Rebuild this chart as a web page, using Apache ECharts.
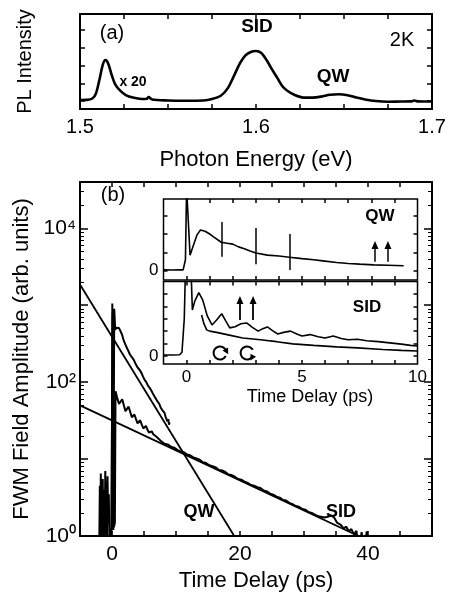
<!DOCTYPE html>
<html><head><meta charset="utf-8">
<script src="https://cdn.jsdelivr.net/npm/echarts@6/dist/echarts.min.js"></script>
</head>
<body style="margin:0;background:#fff">
<div id="c" style="width:449px;height:593px"></div>
<script>
// ---------- Panel (a): PL spectrum ----------
const plEnergy = [1.500,1.504,1.507,1.509,1.511,1.513,1.5145,1.516,1.518,1.520,1.523,1.526,1.530,1.535,1.538,1.539,1.541,1.550,1.560,1.570,1.575,1.580,1.584,1.588,1.591,1.594,1.597,1.600,1.603,1.606,1.609,1.612,1.615,1.618,1.622,1.627,1.632,1.637,1.642,1.647,1.652,1.657,1.662,1.668,1.675,1.682,1.688,1.690,1.692,1.695,1.700];
const plIntensity = [0.095,0.096,0.11,0.16,0.305,0.47,0.515,0.48,0.36,0.26,0.19,0.147,0.12,0.105,0.108,0.125,0.10,0.09,0.087,0.09,0.105,0.14,0.22,0.37,0.485,0.565,0.60,0.61,0.59,0.515,0.42,0.33,0.24,0.19,0.147,0.12,0.12,0.13,0.15,0.155,0.145,0.12,0.10,0.084,0.077,0.079,0.08,0.09,0.08,0.079,0.079];
const energyTicks = [1.525,1.55,1.575,1.6,1.625,1.65,1.675];
const energyLabels = [1.5,1.6,1.7];
const plTicks = [0.085,0.27,0.455,0.64,0.83];

// ---------- Panel (b): FWM field amplitude (log) ----------
const qwTime = [-2.0,-1.9,-1.85,-1.75,-1.7,-1.6,-1.5,-1.45,-1.35,-1.25,-1.15,-1.05,-0.95,-0.85,-0.8,-0.7,-0.6,-0.5,-0.4,-0.2,-0.05,0.05,0.2,0.35,0.5,0.7,0.9,1.1,1.3,1.55,1.8,2.05,2.3,2.55,2.8,3.1,3.4,3.7,4.0,4.3,4.6,4.85,5.1,5.35,5.6,5.85,6.1,6.35,6.6,6.8,7.0,7.2,7.4,7.6,7.8,8.0,8.2,8.35,8.5,8.65,8.8,8.9,9.0];
const qwAmp = [0.6,4.5,0.6,6.5,0.8,3,0.7,5.5,0.9,4,0.7,7,1.1,5,0.8,6,1.5,3.5,0.8,1.1,1.3,1050,1.2,900,480,510,525,505,480,420,355,315,282,255,229,212,195,172,155,145,132,118,107,100,91,85,79,72,66,63,58,56,52,47,44,45,40,36,38,31,33,28,30];
const sidTime = [-0.1,0.1,0.3,0.45,0.55,0.8,1.1,1.35,1.6,1.85,
  2.1,2.35,2.6,2.85,3.1,3.3,3.5,3.75,4.0,4.2,
  4.4,4.65,4.9,5.1,5.3,5.55,5.8,6.0,6.2,6.45,
  6.7,6.95,7.2,7.7,8.2,8.7,9.2,9.7,10.2,10.7,
  11.2,11.7,12.2,12.7,13.2,13.7,14.2,14.7,15.2,15.7,
  16.2,16.7,17.2,17.7,18.2,18.7,19.2,19.7,20.2,20.7,
  21.2,21.7,22.2,22.7,23.2,23.7,24.2,24.7,25.2,25.7,
  26.2,26.7,27.2,27.7,28.2,28.7,29.2,29.7,30.2,30.7,
  31.2,31.7,32.2,32.7,33.2,33.7,34.2,34.7,35.2,35.7,
  36.2,36.6,37.0,37.4,37.8,38.2,38.6,39.0,39.4,39.8,
  40.2];
const sidAmp = [1,800,1.3,1.5,76,63,52,56,60,50,
  42,45,48,41,35,36,38,33,29,30,
  32,28,25,26,27,24,22,22.5,23,21,
  20,19.5,19,17,15.8,15.5,14.5,14.1,13.2,12.6,
  12.3,11.5,11.2,10.5,10.2,9.8,9.1,8.9,8.3,8.1,
  7.8,7.2,7.1,6.8,6.3,6.2,5.9,5.5,5.4,5.1,
  4.9,4.6,4.5,4.3,4.2,3.9,3.8,3.55,3.45,3.25,
  3.15,2.95,2.9,2.7,2.6,2.45,2.4,2.25,2.2,2.05,
  2.0,1.9,1.8,1.78,1.74,1.78,1.86,1.74,1.48,1.41,
  1.26,1.32,1.15,1.23,1.05,1.17,0.5,1.12,0.6,1.15,
  0.5];
const qwFitTime = [-5, 19.1];
const qwFitAmp = [1860, 1];
const sidFitTime = [-5, 38.5];
const sidFitAmp = [50, 1];
const timeTicks = [0,5,10,15,20,25,30,35,40,45];
const timeLabels = [0,20,40];
const ampMajorTicks = [1,10,100,1000,10000];
const ampLabels = [1,100,10000];
const ampMinorTicks = [2,3,4,5,6,7,8,9,20,30,40,50,60,70,80,90,200,300,400,500,600,700,800,900,2000,3000,4000,5000,6000,7000,8000,9000,20000,30000];

// ---------- Inset ----------
const qwInsetTime = [-1.0,-0.6,-0.3,-0.15,-0.05,0.0,0.07,0.15,0.3,0.45,0.6,0.8,1.0,1.2,1.5,1.75,2.0,2.25,2.5,2.75,3.0,3.5,4.0,4.45,5.0,5.5,5.9,6.5,7.0,7.5,8.1,8.7,9.4];
const qwInsetVal = [0.05,0.04,0.06,0.05,0.6,4.5,4.5,0.85,1.4,1.95,2.22,2.15,2.0,1.82,1.55,1.5,1.45,1.3,1.2,1.08,0.97,0.85,0.8,0.74,0.66,0.6,0.54,0.45,0.4,0.36,0.32,0.3,0.27];
const sidInsetTime = [-1.0,-0.6,-0.3,-0.2,-0.1,-0.05,0.1,0.2,0.25,0.35,0.53,0.7,0.9,1.1,1.3,1.52,1.7,1.87,2.1,2.35,2.6,2.85,3.1,3.3,3.5,3.75,3.95,4.2,4.5,4.8,5.0,5.35,5.7,6.0,6.35,6.7,7.0,7.4,7.8,8.3,8.8,9.3,9.7,10.0];
const sidInsetVal = [0.08,0.07,0.1,0.3,3,7,7.5,6.5,3.7,4.4,5.1,4.5,3.2,2.5,2.9,3.4,2.8,2.26,2.35,2.6,2.66,2.3,2.0,2.2,2.34,2.0,1.77,1.9,2.0,1.75,1.6,1.72,1.55,1.45,1.6,1.4,1.3,1.35,1.22,1.15,1.05,0.95,0.85,0.8];
const sid2InsetTime = [0.65,0.75,0.87,1.0,1.3,1.8,2.43,3.2,3.9,4.6,5.5,6.5,7.4,8.5,9.3,10.0];
const sid2InsetVal = [3.3,2.6,2.1,2.0,1.9,1.7,1.45,1.3,1.15,0.97,0.85,0.73,0.65,0.52,0.45,0.4];
const qwMarkTime = [1.52,3.0,4.45];
const qwMarkLow = [0.76,0.35,0.05];
const qwMarkHigh = [2.65,2.32,2.0];
const qwArrowTime = [8.16,8.72];
const qwArrowFrom = 0.49, qwArrowTo = 1.4;
const sidArrowTime = [2.31,2.88];
const sidArrowFrom = 2.9, sidArrowTo = 4.5;
const circleTime = [1.45,2.62];
const circleVal = [0.24,0.24];
const circleHeadAtTop = [1,0];
const insetTimeTicks = [0,1,2,3,4,5,6,7,8,9];
const insetTimeLabels = [0,5,10];
const qwInsetTicks = [0,1,2,3];
const sidInsetTicks = [0,1,2,3,4,5];
const insetZeroLabel = [0];

const FONT = 'Liberation Sans, Arial, Helvetica, sans-serif';
const BLACK = '#000';
const zip = (a, b) => a.map((v, i) => [v, b[i]]);
const sup = {0: '\u2070', 1: '\u00b9', 2: '\u00b2', 3: '\u00b3', 4: '\u2074'};

function axis(o) {
  const a = {
    gridIndex: o.g, type: o.type || 'value', position: o.pos,
    min: o.min, max: o.max,
    axisLine: {show: false, onZero: false},
    splitLine: {show: false},
    axisTick: {show: !!o.ticks, inside: true, length: o.len || 5, customValues: o.ticks,
      lineStyle: {color: BLACK, width: o.tw || 1.5}},
    axisLabel: o.labels ? {show: true, customValues: o.labels, formatter: o.fmt,
      fontSize: o.fs || 20, fontFamily: FONT, color: BLACK, margin: o.margin || 8} : {show: false},
    silent: true
  };
  if (o.type === 'log') a.logBase = 10;
  if (o.name) {
    a.name = o.name; a.nameLocation = 'middle'; a.nameGap = o.nameGap;
    a.nameTextStyle = {fontSize: o.nfs || 22, fontFamily: FONT, color: BLACK};
  }
  return a;
}

const lineBase = {type: 'line', showSymbol: false, symbol: 'none', animation: false, silent: true, clip: true};

const option = {
  animation: false,
  backgroundColor: '#fff',
  grid: [
    {left: 80, top: 14, width: 352, height: 95, show: true, borderColor: BLACK, borderWidth: 2, backgroundColor: 'transparent', outerBoundsMode: 'none'},
    {left: 80, top: 182, width: 352, height: 354, show: true, borderColor: BLACK, borderWidth: 2, backgroundColor: 'transparent', outerBoundsMode: 'none'},
    {left: 163.5, top: 199, width: 254, height: 81, show: true, borderColor: BLACK, borderWidth: 1.5, backgroundColor: '#fff', outerBoundsMode: 'none'},
    {left: 163.5, top: 281.5, width: 254, height: 82.5, show: true, borderColor: BLACK, borderWidth: 1.5, backgroundColor: '#fff', outerBoundsMode: 'none'}
  ],
  xAxis: [
    axis({g: 0, pos: 'bottom', min: 1.5, max: 1.7, ticks: energyTicks, labels: energyLabels, fmt: v => (+v).toFixed(1), fs: 20, margin: 8, name: 'Photon Energy (eV)', nameGap: 40}),
    axis({g: 0, pos: 'top', min: 1.5, max: 1.7, ticks: energyTicks}),
    axis({g: 1, pos: 'bottom', min: -5, max: 50, ticks: timeTicks, labels: timeLabels, fmt: v => String(v), fs: 21, margin: 8, name: 'Time Delay (ps)', nameGap: 33}),
    axis({g: 1, pos: 'top', min: -5, max: 50, ticks: timeTicks}),
    axis({g: 2, pos: 'bottom', min: -1, max: 10, ticks: insetTimeTicks, len: 4}),
    axis({g: 2, pos: 'top', min: -1, max: 10, ticks: insetTimeTicks, len: 4}),
    axis({g: 3, pos: 'bottom', min: -1, max: 10, ticks: insetTimeTicks, len: 4, labels: insetTimeLabels, fmt: v => String(v), fs: 17, margin: 5}),
    axis({g: 3, pos: 'top', min: -1, max: 10, ticks: insetTimeTicks, len: 4})
  ],
  yAxis: [
    axis({g: 0, pos: 'left', min: 0, max: 1, ticks: plTicks, name: 'PL Intensity', nameGap: 45, nfs: 20}),
    axis({g: 0, pos: 'right', min: 0, max: 1, ticks: plTicks}),
    axis({g: 1, pos: 'left', type: 'log', min: 1, max: 40000, ticks: ampMajorTicks, len: 8, labels: ampLabels,
      fmt: v => '10' + sup[Math.round(Math.log10(v))], fs: 21, margin: 4, name: 'FWM Field Amplitude (arb. units)', nameGap: 45}),
    axis({g: 1, pos: 'right', type: 'log', min: 1, max: 40000, ticks: ampMajorTicks, len: 8}),
    axis({g: 1, pos: 'left', type: 'log', min: 1, max: 40000, ticks: ampMinorTicks, len: 4, tw: 1}),
    axis({g: 1, pos: 'right', type: 'log', min: 1, max: 40000, ticks: ampMinorTicks, len: 4, tw: 1}),
    axis({g: 2, pos: 'left', min: -0.5, max: 3.9, ticks: qwInsetTicks, len: 4, labels: insetZeroLabel, fmt: v => String(v), fs: 17, margin: 5}),
    axis({g: 2, pos: 'right', min: -0.5, max: 3.9, ticks: qwInsetTicks, len: 4}),
    axis({g: 3, pos: 'left', min: -0.65, max: 6, ticks: sidInsetTicks, len: 4, labels: insetZeroLabel, fmt: v => String(v), fs: 17, margin: 5}),
    axis({g: 3, pos: 'right', min: -0.65, max: 6, ticks: sidInsetTicks, len: 4})
  ],
  series: [
    Object.assign({}, lineBase, {xAxisIndex: 0, yAxisIndex: 0, data: zip(plEnergy, plIntensity), smooth: 0.3,
      lineStyle: {color: BLACK, width: 2.6}}),
    Object.assign({}, lineBase, {xAxisIndex: 2, yAxisIndex: 2, data: zip(qwTime, qwAmp),
      lineStyle: {color: BLACK, width: 2}}),
    Object.assign({}, lineBase, {xAxisIndex: 2, yAxisIndex: 2, data: zip(sidTime, sidAmp),
      lineStyle: {color: BLACK, width: 2}}),
    Object.assign({}, lineBase, {xAxisIndex: 2, yAxisIndex: 2, data: zip(qwFitTime, qwFitAmp),
      lineStyle: {color: BLACK, width: 1.8}}),
    Object.assign({}, lineBase, {xAxisIndex: 2, yAxisIndex: 2, data: zip(sidFitTime, sidFitAmp),
      lineStyle: {color: BLACK, width: 1.8}}),
    Object.assign({}, lineBase, {xAxisIndex: 4, yAxisIndex: 6, data: zip(qwInsetTime, qwInsetVal),
      lineStyle: {color: BLACK, width: 1.6},
      markLine: {silent: true, animation: false, label: {show: false}, symbol: ['none', 'none'],
        lineStyle: {color: BLACK, width: 1.5, type: 'solid'},
        data: qwMarkTime.map((t, i) => [{coord: [t, qwMarkLow[i]]}, {coord: [t, qwMarkHigh[i]]}])
          .concat(qwArrowTime.map(t => [{coord: [t, qwArrowFrom], symbol: 'none'}, {coord: [t, qwArrowTo], symbol: 'triangle', symbolSize: [7, 8]}]))}}),
    Object.assign({}, lineBase, {xAxisIndex: 6, yAxisIndex: 8, data: zip(sidInsetTime, sidInsetVal),
      lineStyle: {color: BLACK, width: 1.6},
      markLine: {silent: true, animation: false, label: {show: false}, symbol: ['none', 'none'],
        lineStyle: {color: BLACK, width: 1.8, type: 'solid'},
        data: sidArrowTime.map(t => [{coord: [t, sidArrowFrom], symbol: 'none'}, {coord: [t, sidArrowTo], symbol: 'triangle', symbolSize: [7, 8]}])}}),
    Object.assign({}, lineBase, {xAxisIndex: 6, yAxisIndex: 8, data: zip(sid2InsetTime, sid2InsetVal),
      lineStyle: {color: BLACK, width: 1.6}}),
    {type: 'custom', xAxisIndex: 6, yAxisIndex: 8, silent: true, animation: false,
      data: circleTime.map((t, i) => [t, circleVal[i], circleHeadAtTop[i]]),
      renderItem: function (params, api) {
        const p = api.coord([api.value(0), api.value(1)]);
        const r = 6.5;
        const aStart = 0.5, aEnd = 2 * Math.PI - 0.5;
        const a = api.value(2) ? aEnd : aStart;
        const ex = p[0] + r * Math.cos(a), ey = p[1] + r * Math.sin(a);
        const tx = -Math.sin(a), ty = Math.cos(a);
        const nx = Math.cos(a), ny = Math.sin(a);
        const tip = [ex + tx * 5, ey + ty * 5];
        const b1 = [ex - tx * 1 + nx * 3.2, ey - ty * 1 + ny * 3.2];
        const b2 = [ex - tx * 1 - nx * 3.2, ey - ty * 1 - ny * 3.2];
        return {type: 'group', children: [
          {type: 'arc', shape: {cx: p[0], cy: p[1], r: r, startAngle: aStart, endAngle: aEnd, clockwise: true},
            style: {stroke: BLACK, lineWidth: 2, fill: null}},
          {type: 'polygon', shape: {points: [tip, b1, b2]}, style: {fill: BLACK}}
        ]};
      }}
  ],
  graphic: [
    {type: 'text', x: 112, y: 33, style: {text: '(a)', fontSize: 20, fontFamily: FONT, fill: BLACK, align: 'center', verticalAlign: 'middle'}},
    {type: 'text', x: 133, y: 82, style: {text: 'x 20', fontSize: 14, fontWeight: 'bold', fontFamily: FONT, fill: BLACK, align: 'center', verticalAlign: 'middle'}},
    {type: 'text', x: 257, y: 27, style: {text: 'SID', fontSize: 19, fontWeight: 'bold', fontFamily: FONT, fill: BLACK, align: 'center', verticalAlign: 'middle'}},
    {type: 'text', x: 333, y: 77, style: {text: 'QW', fontSize: 19, fontWeight: 'bold', fontFamily: FONT, fill: BLACK, align: 'center', verticalAlign: 'middle'}},
    {type: 'text', x: 402, y: 40, style: {text: '2K', fontSize: 20, fontFamily: FONT, fill: BLACK, align: 'center', verticalAlign: 'middle'}},
    {type: 'text', x: 113, y: 195, style: {text: '(b)', fontSize: 20, fontFamily: FONT, fill: BLACK, align: 'center', verticalAlign: 'middle'}},
    {type: 'text', x: 380, y: 216, z: 10, style: {text: 'QW', fontSize: 17, fontWeight: 'bold', fontFamily: FONT, fill: BLACK, align: 'center', verticalAlign: 'middle'}},
    {type: 'text', x: 367, y: 307, z: 10, style: {text: 'SID', fontSize: 17, fontWeight: 'bold', fontFamily: FONT, fill: BLACK, align: 'center', verticalAlign: 'middle'}},
    {type: 'text', x: 199, y: 512, style: {text: 'QW', fontSize: 18, fontWeight: 'bold', fontFamily: FONT, fill: BLACK, align: 'center', verticalAlign: 'middle'}},
    {type: 'text', x: 341, y: 512, style: {text: 'SID', fontSize: 18, fontWeight: 'bold', fontFamily: FONT, fill: BLACK, align: 'center', verticalAlign: 'middle'}},
    {type: 'text', x: 310, y: 397, style: {text: 'Time Delay (ps)', fontSize: 18, fontFamily: FONT, fill: BLACK, align: 'center', verticalAlign: 'middle'}}
  ]
};

const chart = echarts.init(document.getElementById('c'), null, {renderer: 'canvas'});
chart.setOption(option);
</script>
</body></html>
